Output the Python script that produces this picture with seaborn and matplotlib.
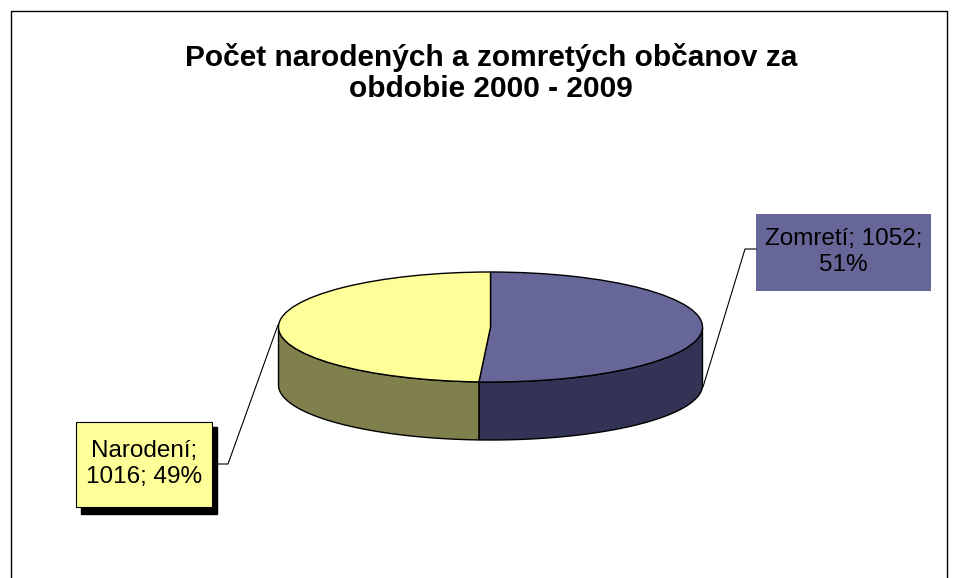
import numpy as np
import matplotlib
matplotlib.use("Agg")
import matplotlib.pyplot as plt
import seaborn as sns
from matplotlib.patches import Rectangle

categories = ["Zomretí", "Narodení"]
values = [1052, 1016]
percents = [51, 49]
title = "Počet narodených a zomretých občanov za\nobdobie 2000 - 2009"
top_colors = ["#666699", "#FFFF99"]
side_colors = ["#333355", "#80804D"]

sns.set_theme(style="white")
plt.rcParams["font.family"] = ["Liberation Sans", "DejaVu Sans"]

W, H = 957, 578
fig = plt.figure(figsize=(W / 100, H / 100), dpi=100, facecolor="white")

def box(x0, y0, x1, y1):
    return [x0 / W, 1 - y1 / H, (x1 - x0) / W, (y1 - y0) / H]

# overlay in pixel coordinates for frame, title and labels
bg = fig.add_axes([0, 0, 1, 1], zorder=0)
bg.set_xlim(0, W); bg.set_ylim(H, 0); bg.axis("off")
bg.plot([11, 11, 947, 947], [H + 2, 11, 11, H + 2], color="black", lw=1.0, clip_on=False)
bg.text(491, 73, title, ha="center", va="center", fontsize=21.5, fontweight="bold",
        color="black", linespacing=1.17)

# pie axes in unit coordinates: ellipse radius 1, y scaled by pixels
cx, cy, rx, ry, depth = 490.5, 327.0, 212.0, 55.0, 58.0
d = depth / ry
ax = fig.add_axes(box(cx - rx - 4, cy - ry - 4, cx + rx + 4, cy + ry + depth + 4), zorder=1)
edge = {"edgecolor": "black", "linewidth": 1.0}

fractions = np.array(values, dtype=float) / sum(values)
bounds = 90 - 360 * np.concatenate([[0], np.cumsum(fractions)])
for i in range(len(values)):
    th = np.radians(np.linspace(bounds[i], bounds[i + 1], 400))
    th = th[np.sin(th) <= 0.0001] if False else th
    vis = np.sin(th) <= 0
    x, y = np.cos(th[vis]), np.sin(th[vis])
    ax.fill(np.r_[x, x[::-1]], np.r_[y, y[::-1] - d], facecolor=side_colors[i], zorder=1, **edge)

ax.pie(values, colors=top_colors, startangle=90, counterclock=False, radius=1,
       wedgeprops=dict(edgecolor="black", linewidth=1.0, zorder=2))
ax.set_aspect("auto")
ax.set_xlim(-1 - 4 / rx, 1 + 4 / rx)
ax.set_ylim(-1 - d - 4 / ry, 1 + 4 / ry)
ax.axis("off")

# overlay for leader lines and data labels
fg = fig.add_axes([0, 0, 1, 1], zorder=2)
fg.set_xlim(0, W); fg.set_ylim(H, 0); fg.axis("off")
fg.patch.set_alpha(0)
fg.plot([703, 745, 756], [387, 249, 249], color="black", lw=0.8)
fg.plot([278, 228, 215], [325, 464, 464], color="black", lw=0.8)

fg.add_patch(Rectangle((756, 214), 175, 77, facecolor=top_colors[0], edgecolor="none"))
fg.text(843.5, 252, f"{categories[0]}; {values[0]};\n{percents[0]}%", ha="center", va="center",
        fontsize=17.5, color="black", linespacing=1.2)

fg.add_patch(Rectangle((81, 427), 136, 87, facecolor="black", edgecolor="black"))
fg.add_patch(Rectangle((76, 422), 136, 85, facecolor=top_colors[1], edgecolor="black", lw=0.8))
fg.text(144, 464, f"{categories[1]};\n{values[1]}; {percents[1]}%", ha="center", va="center",
        fontsize=17.5, color="black", linespacing=1.2)

fig.savefig("out.png", dpi=100)
